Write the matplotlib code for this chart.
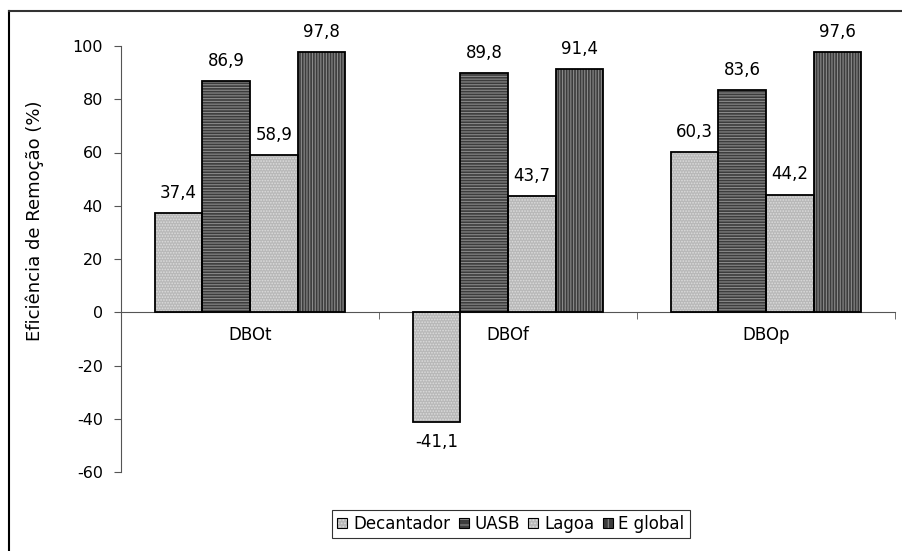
import matplotlib
matplotlib.use("Agg")
import matplotlib.pyplot as plt
from matplotlib.lines import Line2D
from matplotlib.patches import Patch
import numpy as np

plt.rcParams["font.family"] = ["DejaVu Sans"]
plt.rcParams["font.size"] = 12
plt.rcParams["hatch.linewidth"] = 0.8
plt.rcParams["axes.unicode_minus"] = False

categories = ["DBOt", "DBOf", "DBOp"]
series = ["Decantador", "UASB", "Lagoa", "E global"]
decantador = [37.4, -41.1, 60.3]
uasb = [86.9, 89.8, 83.6]
lagoa = [58.9, 43.7, 44.2]
eglobal = [97.8, 91.4, 97.6]
values = [decantador, uasb, lagoa, eglobal]

# fill colour, hatch colour, hatch pattern
styles = [
    ("#b8b8b8", "#dcdcdc", "......"),
    ("#3c3c3c", "#8a8a8a", "------"),
    ("#b8b8b8", "#dcdcdc", "......"),
    ("#3c3c3c", "#8a8a8a", "||||||"),
]

fig = plt.figure(figsize=(9.03, 5.51), dpi=100)
ax = fig.add_axes([121 / 903, 1 - 472 / 551, 774 / 903, 426 / 551])

x = np.arange(len(categories))
w = 0.185
for i, (vals, (fc, hc, hatch)) in enumerate(zip(values, styles)):
    pos = x + (i - 1.5) * w
    ax.bar(pos, vals, w, color=fc, edgecolor="none", zorder=2)
    ax.bar(pos, vals, w, color="none", edgecolor=hc, hatch=hatch, linewidth=0, zorder=3)
    ax.bar(pos, vals, w, color="none", edgecolor="black", linewidth=1.3, zorder=4)
    for p, v in zip(pos, vals):
        txt = f"{v:.1f}".replace(".", ",")
        if v >= 0:
            ax.annotate(txt, (p, v), xytext=(0, 8), textcoords="offset points",
                        ha="center", va="bottom")
        else:
            ax.annotate(txt, (p, v), xytext=(0, -8), textcoords="offset points",
                        ha="center", va="top")

ax.set_xlim(-0.5, 2.5)
ax.set_ylim(-60, 100)
ax.set_yticks(range(-60, 101, 20))
ax.set_xticks(x)
ax.set_xticklabels(categories)
ax.set_xticks([0.5, 1.5, 2.5], minor=True)
ax.tick_params(axis="x", which="major", length=0, pad=10)
ax.tick_params(axis="x", which="minor", length=5, direction="out", color="#555555")
ax.tick_params(axis="y", length=5, color="#555555", pad=8, labelsize=11.5)
ax.spines["bottom"].set_position(("data", 0))
ax.spines["bottom"].set_color("#555555")
ax.spines["left"].set_color("#555555")
ax.spines["top"].set_visible(False)
ax.spines["right"].set_visible(False)
ax.set_ylabel("Eficiência de Remoção (%)", fontsize=13)
ax.yaxis.set_label_coords(-0.099, 0.59)

handles = []
for name, (fc, hc, hatch) in zip(series, styles):
    handles.append((
        Patch(facecolor=fc, edgecolor="none"),
        Patch(facecolor="none", edgecolor=hc, hatch="....." if hatch == "......" else hatch[:3], linewidth=0),
        Patch(facecolor="none", edgecolor="black", linewidth=0.8),
    ))
leg = fig.legend(handles=handles, labels=series, loc="center",
                 bbox_to_anchor=(511 / 903, 1 - 524 / 551),
                 ncol=4, frameon=True, fancybox=False, edgecolor="black",
                 handlelength=0.6, handleheight=0.6, handletextpad=0.35,
                 columnspacing=0.5, borderpad=0.3)
leg.get_frame().set_linewidth(0.8)

# outer chart frame
fig.add_artist(Line2D([9 / 903, 9 / 903], [0, 1 - 11 / 551], color="black", lw=1.5))
fig.add_artist(Line2D([9 / 903, 1], [1 - 11 / 551, 1 - 11 / 551], color="#333333", lw=1.5))

fig.savefig("out.png", dpi=100)
